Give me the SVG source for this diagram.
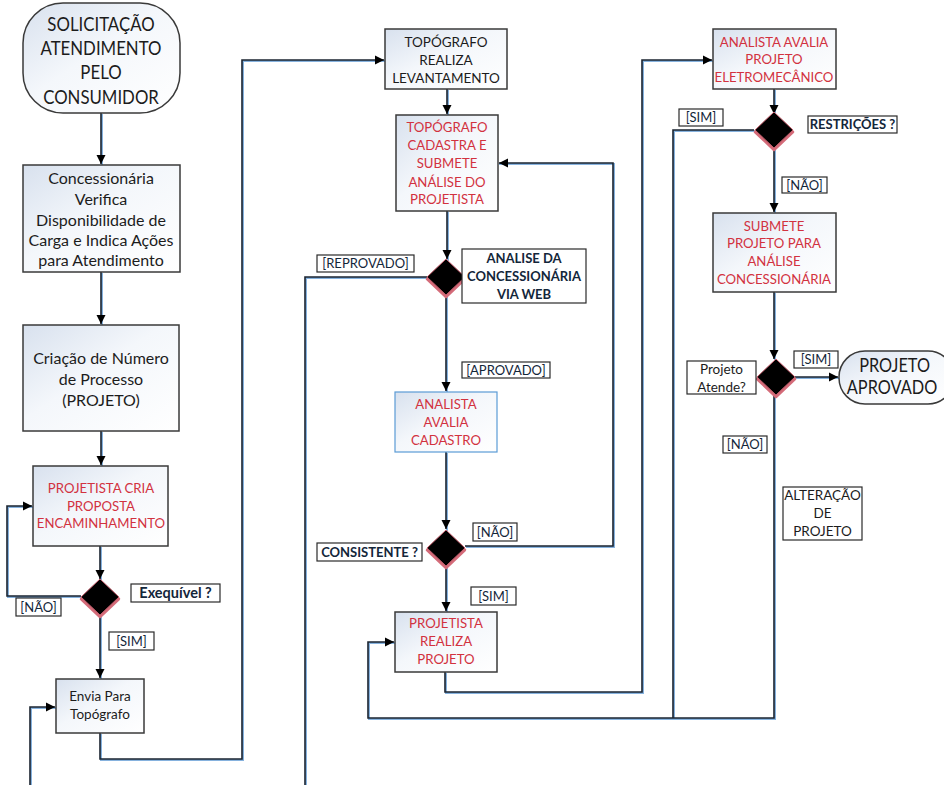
<svg xmlns="http://www.w3.org/2000/svg" width="944" height="785" viewBox="0 0 944 785">
<defs>
<linearGradient id="g" x1="0" y1="0" x2="1" y2="1">
<stop offset="0" stop-color="#d8e1ee"/>
<stop offset="0.45" stop-color="#f4f7fb"/>
<stop offset="1" stop-color="#ffffff"/>
</linearGradient>
<marker id="a" markerUnits="userSpaceOnUse" markerWidth="10" markerHeight="10" refX="9" refY="5" orient="auto">
<path d="M0,0.5 L9,5 L0,9.5 z" fill="#000"/>
</marker>
<polygon id="dm" points="0,-18 19,0 0,18 -19,0"/>
</defs>
<style>
text{font-family:Lato,"Open Sans","Liberation Sans",sans-serif;text-anchor:middle}
.box{fill:url(#g);stroke:#3a3a3a;stroke-width:1.5}
.dk{fill:#1c1c1c;font-size:16px}
.rd{fill:#d2323f;font-size:13.2px}
.lb{fill:#fff;stroke:#2a2a2a;stroke-width:1.2}
.lt{fill:#13263a;font-size:13px}
.bt{fill:#13263a;font-size:13px;font-weight:bold}
.cb{fill:none;stroke:#86b2de;stroke-width:2}
.c{fill:none;stroke:#1b2430;stroke-width:1.6}
.sh{fill:#d46b79;stroke:#d46b79;stroke-width:2.5;stroke-linejoin:round}
.dd{fill:#000;stroke:#c4606e;stroke-width:1}
</style>
<g id="connectors">
<g transform="translate(1,1)">
<path class="cb" d="M101,113 V165 M101,272 V325 M101,431 V466 M100,546 V580 M81,596 H7 V506 H33 M100,615 V679 M100,733 V759 H242 V60 H385 M30,785 V707 H56 M447,89 V115 M447,211 V260 M427,277 H305 V785 M446,295 V392 M446,452 V530 M465,546 H613 V163 H498 M446,566 V612 M445,672 V692 H642 V60 H713 M774,89 V113 M754,130 H673 V718 M774,148 V213 M774,292 V360 M795,377 H839 M774,395 V718 H368 V642 H395"/>
</g>
<path class="c" d="M101,113 V164" marker-end="url(#a)"/>
<path class="c" d="M101,272 V324" marker-end="url(#a)"/>
<path class="c" d="M101,431 V465" marker-end="url(#a)"/>
<path class="c" d="M100,546 V579" marker-end="url(#a)"/>
<path class="c" d="M81,596 H7 V506 H32" marker-end="url(#a)"/>
<path class="c" d="M100,615 V678" marker-end="url(#a)"/>
<path class="c" d="M100,733 V759 H242 V60 H384" marker-end="url(#a)"/>
<path class="c" d="M30,785 V707 H55" marker-end="url(#a)"/>
<path class="c" d="M447,89 V114" marker-end="url(#a)"/>
<path class="c" d="M447,211 V259" marker-end="url(#a)"/>
<path class="c" d="M427,277 H305 V785"/>
<path class="c" d="M446,295 V391" marker-end="url(#a)"/>
<path class="c" d="M446,452 V529" marker-end="url(#a)"/>
<path class="c" d="M465,546 H613 V163 H499" marker-end="url(#a)"/>
<path class="c" d="M446,566 V611" marker-end="url(#a)"/>
<path class="c" d="M445,672 V692 H642 V60 H712" marker-end="url(#a)"/>
<path class="c" d="M774,89 V114" marker-end="url(#a)"/>
<path class="c" d="M754,130 H673 V718"/>
<path class="c" d="M774,148 V212" marker-end="url(#a)"/>
<path class="c" d="M774,292 V359" marker-end="url(#a)"/>
<path class="c" d="M795,377 H838" marker-end="url(#a)"/>
<path class="c" d="M774,395 V718 H368 V642 H394" marker-end="url(#a)"/>
</g>
<g id="start">
<rect class="box" x="23" y="3" width="157" height="110" rx="40"/>
<text class="dk" style="font-size:20px" transform="translate(101,0) scale(0.84,1)"><tspan x="0" y="31">SOLICITAÇÃO</tspan><tspan x="0" y="55">ATENDIMENTO</tspan><tspan x="0" y="79">PELO</tspan><tspan x="0" y="104">CONSUMIDOR</tspan></text>
</g>
<g id="verifica">
<rect class="box" x="23" y="165" width="157" height="107"/>
<text class="dk"><tspan x="101" y="184">Concessionária</tspan><tspan x="101" y="205">Verifica</tspan><tspan x="101" y="226">Disponibilidade de</tspan><tspan x="101" y="246">Carga e Indica Ações</tspan><tspan x="101" y="266">para Atendimento</tspan></text>
</g>
<g id="criacao">
<rect class="box" x="23" y="325" width="156" height="106"/>
<text class="dk"><tspan x="101" y="364">Criação de Número</tspan><tspan x="101" y="385">de Processo</tspan><tspan x="101" y="406">(PROJETO)</tspan></text>
</g>
<g id="projetista-cria">
<rect class="box" x="33" y="466" width="135" height="80"/>
<text class="rd"><tspan x="101" y="493">PROJETISTA CRIA</tspan><tspan x="101" y="511">PROPOSTA</tspan><tspan x="101" y="528">ENCAMINHAMENTO</tspan></text>
</g>
<g id="exequivel">
<use href="#dm" x="100" y="599" class="sh"/>
<use href="#dm" x="100" y="597" class="dd"/>
<rect class="lb" x="131" y="584" width="89" height="18"/>
<text class="bt" style="font-size:14.5px" x="175.5" y="598">Exequível ?</text>
<rect class="lb" x="16" y="598" width="45" height="18"/>
<text class="lt" x="38.5" y="612">[NÃO]</text>
<rect class="lb" x="109" y="632" width="45" height="18"/>
<text class="lt" x="131.5" y="646">[SIM]</text>
</g>
<g id="envia">
<rect class="box" x="56" y="679" width="88" height="54"/>
<text class="dk" style="font-size:13.5px"><tspan x="100" y="701">Envia Para</tspan><tspan x="100" y="719">Topógrafo</tspan></text>
</g>
<g id="topografo-realiza">
<rect class="box" x="385" y="29" width="122" height="60"/>
<text class="dk" style="font-size:13.5px"><tspan x="446" y="47">TOPÓGRAFO</tspan><tspan x="446" y="65">REALIZA</tspan><tspan x="446" y="83">LEVANTAMENTO</tspan></text>
</g>
<g id="topografo-cadastra">
<rect class="box" x="396" y="115" width="102" height="96"/>
<text class="rd"><tspan x="447" y="132">TOPÓGRAFO</tspan><tspan x="447" y="150">CADASTRA E</tspan><tspan x="447" y="168">SUBMETE</tspan><tspan x="447" y="187">ANÁLISE DO</tspan><tspan x="447" y="204">PROJETISTA</tspan></text>
</g>
<g id="analise-web">
<use href="#dm" x="446" y="279" class="sh"/>
<use href="#dm" x="446" y="277" class="dd"/>
<rect class="lb" x="462" y="249" width="124" height="54"/>
<text class="bt"><tspan x="524" y="263">ANALISE DA</tspan><tspan x="524" y="281">CONCESSIONÁRIA</tspan><tspan x="524" y="299">VIA WEB</tspan></text>
<rect class="lb" x="317" y="255" width="97" height="17"/>
<text class="lt" x="365.5" y="268">[REPROVADO]</text>
<rect class="lb" x="462" y="362" width="88" height="16"/>
<text class="lt" x="506" y="375">[APROVADO]</text>
</g>
<g id="analista-cadastro">
<rect x="395" y="392" width="102" height="60" fill="url(#g)" stroke="#5b9bd5" stroke-width="1.2"/>
<text class="rd"><tspan x="446" y="409">ANALISTA</tspan><tspan x="446" y="427">AVALIA</tspan><tspan x="446" y="445">CADASTRO</tspan></text>
</g>
<g id="consistente">
<use href="#dm" x="446" y="550" class="sh"/>
<use href="#dm" x="446" y="548" class="dd"/>
<rect class="lb" x="317" y="543" width="105" height="18"/>
<text class="bt" x="369.5" y="557">CONSISTENTE ?</text>
<rect class="lb" x="473" y="523" width="44" height="18"/>
<text class="lt" x="495" y="537">[NÃO]</text>
<rect class="lb" x="471" y="587" width="45" height="18"/>
<text class="lt" x="493.5" y="601">[SIM]</text>
</g>
<g id="projetista-realiza">
<rect class="box" x="395" y="612" width="102" height="60"/>
<text class="rd"><tspan x="446" y="628">PROJETISTA</tspan><tspan x="446" y="646">REALIZA</tspan><tspan x="446" y="664">PROJETO</tspan></text>
</g>
<g id="analista-projeto">
<rect class="box" x="713" y="29" width="123" height="60"/>
<text class="rd"><tspan x="774" y="47">ANALISTA AVALIA</tspan><tspan x="774" y="64">PROJETO</tspan><tspan x="774" y="82">ELETROMECÂNICO</tspan></text>
</g>
<g id="restricoes">
<use href="#dm" x="774" y="132" class="sh"/>
<use href="#dm" x="774" y="130" class="dd"/>
<rect class="lb" x="808" y="116" width="89" height="17"/>
<text class="bt" x="852.5" y="129">RESTRIÇÕES ?</text>
<rect class="lb" x="679" y="109" width="44" height="17"/>
<text class="lt" x="701" y="122">[SIM]</text>
<rect class="lb" x="782" y="177" width="45" height="16"/>
<text class="lt" x="804.5" y="190">[NÃO]</text>
</g>
<g id="submete">
<rect class="box" x="713" y="213" width="123" height="79"/>
<text class="rd"><tspan x="774" y="231">SUBMETE</tspan><tspan x="774" y="248">PROJETO PARA</tspan><tspan x="774" y="266">ANÁLISE</tspan><tspan x="774" y="284">CONCESSIONÁRIA</tspan></text>
</g>
<g id="projeto-atende">
<use href="#dm" x="776" y="379" class="sh"/>
<use href="#dm" x="776" y="377" class="dd"/>
<rect class="lb" x="687" y="361" width="69" height="33"/>
<text class="dk" style="font-size:13.5px"><tspan x="721.5" y="374">Projeto</tspan><tspan x="721.5" y="392">Atende?</tspan></text>
<rect class="lb" x="794" y="351" width="44" height="17"/>
<text class="lt" x="816" y="364">[SIM]</text>
<rect class="lb" x="723" y="436" width="44" height="17"/>
<text class="lt" x="745" y="449">[NÃO]</text>
<rect class="lb" x="783" y="487" width="79" height="53"/>
<text class="dk" style="font-size:13.5px"><tspan x="822.5" y="500">ALTERAÇÃO</tspan><tspan x="822.5" y="518">DE</tspan><tspan x="822.5" y="536">PROJETO</tspan></text>
</g>
<g id="aprovado">
<rect class="box" x="839" y="351" width="115" height="53" rx="26"/>
<text class="dk" style="font-size:19px" transform="translate(892,0) scale(0.86,1)"><tspan x="3" y="372">PROJETO</tspan><tspan x="0" y="394">APROVADO</tspan></text>
</g>
</svg>
